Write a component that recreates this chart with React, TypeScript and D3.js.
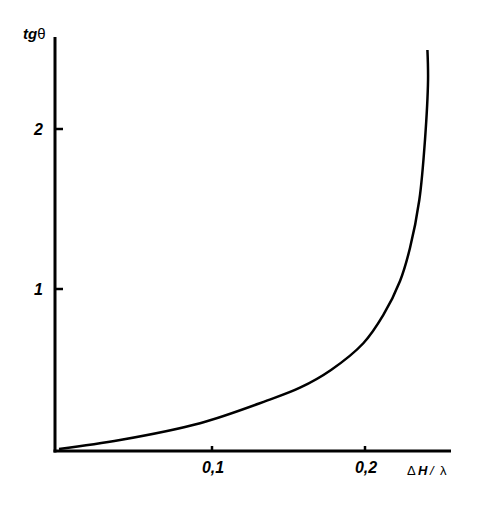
import React from "react";
import * as d3 from "d3";

const xValues = [0, 0.0399, 0.0922, 0.1358, 0.1575, 0.1778, 0.1989, 0.212, 0.2229, 0.2294, 0.2355, 0.2392, 0.2412, 0.2408];
const yValues = [0, 0.056, 0.161, 0.302, 0.383, 0.494, 0.661, 0.838, 1.05, 1.256, 1.556, 1.931, 2.306, 2.494];
const xTicks = [0.1, 0.2];
const xTickLabels = ["0,1", "0,2"];
const yTicks = [1, 2];
const yTickLabels = ["1", "2"];

export default function App() {
  const W = 498, H = 516;
  const x = d3.scaleLinear().domain([0, 0.2]).range([59, 365]);
  const y = d3.scaleLinear().domain([0, 2]).range([449, 129]);
  const axisX = 55;
  const axisY = 451;
  const pts: [number, number][] = xValues.map((v, i) => [v, yValues[i]]);
  const line = d3
    .line<[number, number]>()
    .x((d) => x(d[0]))
    .y((d) => y(d[1]))
    .curve(d3.curveCatmullRom.alpha(0.5));
  const font = "'Liberation Sans', Arial, sans-serif";
  return (
    <svg
      width={W}
      height={H}
      style={{ position: "absolute", left: 0, top: 0, background: "#fff" }}
    >
      <rect width={W} height={H} fill="#fff" />
      {/* axes */}
      <line x1={axisX} y1={37} x2={axisX} y2={axisY + 1.5} stroke="#000" strokeWidth={3} />
      <line x1={axisX - 1.5} y1={axisY} x2={451} y2={axisY} stroke="#000" strokeWidth={3} />
      {/* y ticks */}
      {yTicks.map((t, i) => (
        <g key={"y" + t}>
          <line x1={axisX} x2={63} y1={y(t)} y2={y(t)} stroke="#000" strokeWidth={2.5} />
          <text
            x={43}
            y={y(t) + 6}
            textAnchor="end"
            fontFamily={font}
            fontWeight="bold"
            fontStyle="italic"
            fontSize={16}
          >
            {yTickLabels[i]}
          </text>
        </g>
      ))}
      {/* x ticks */}
      {xTicks.map((t, i) => (
        <g key={"x" + t}>
          <line x1={x(t)} x2={x(t)} y1={axisY} y2={axisY - 5} stroke="#000" strokeWidth={2.5} />
          <text
            x={x(t) + 1}
            y={473}
            textAnchor="middle"
            fontFamily={font}
            fontWeight="bold"
            fontStyle="italic"
            fontSize={16}
          >
            {xTickLabels[i]}
          </text>
        </g>
      ))}
      {/* axis titles */}
      <text x={23} y={39} fontFamily={font} fontSize={15}>
        <tspan fontWeight="bold" fontStyle="italic">tg</tspan>
        <tspan>θ</tspan>
      </text>
      <text y={475} fontFamily={font} fontSize={13}>
        <tspan x={407}>Δ</tspan>
        <tspan x={418} fontWeight="bold" fontStyle="italic">H</tspan>
        <tspan x={430} fontStyle="italic">/</tspan>
        <tspan x={440}>λ</tspan>
      </text>
      {/* curve */}
      <path d={line(pts) || ""} fill="none" stroke="#000" strokeWidth={2.5} />
    </svg>
  );
}
